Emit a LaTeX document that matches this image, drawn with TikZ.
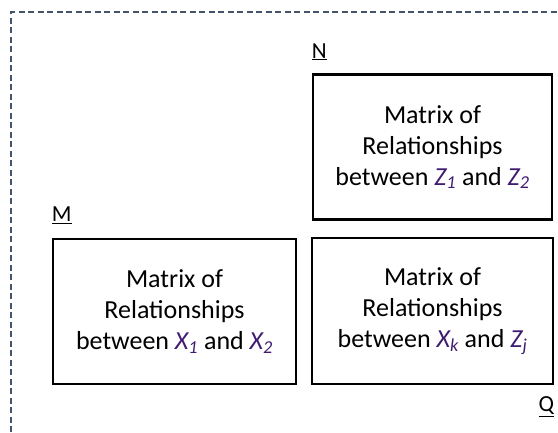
\documentclass[tikz,border=0pt]{standalone}
\usepackage{fontspec}
\setmainfont{Carlito}
\usetikzlibrary{positioning}

\definecolor{varcol}{RGB}{64,28,112}
\definecolor{framecol}{RGB}{68,84,106}
\newcommand{\var}[2]{\textcolor{varcol}{\textit{#1\textsubscript{#2}}}}

\tikzset{
  matbox/.style={draw=black, line width=2.5pt, align=center,
                 font=\fontsize{26}{31}\selectfont, inner sep=0pt},
  lbl/.style={inner sep=0pt, font=\fontsize{23}{27}\selectfont}
}

\begin{document}
\begin{tikzpicture}[x=1pt, y=-1pt]
  \useasboundingbox (0,0) rectangle (558,432);
  % dashed frame, runs off the right and bottom edges
  \draw[framecol, line width=1.3pt, dash pattern=on 6pt off 3.5pt]
    (11,432) -- (11,12) -- (558,12);

  % the three matrices
  \node[matbox, minimum width=239pt, minimum height=145pt] (nbox) at (432.5,147)
    {Matrix of\\Relationships\\between \var{Z}{1} and \var{Z}{2}};
  \node[matbox, minimum width=243pt, minimum height=145pt] (mbox) at (174.5,311.5)
    {Matrix of\\Relationships\\between \var{X}{1} and \var{X}{2}};
  \node[matbox, minimum width=241pt, minimum height=146pt] (qbox) at (432.5,311)
    {Matrix of\\Relationships\\between \var{X}{k} and \var{Z}{j}};

  % labels
  \node[lbl, above right=13pt and 0pt of nbox.north west] (nlbl) {\underline{N}};
  \node[lbl, above right=14pt and 0pt of mbox.north west] (mlbl) {\underline{M}};
  \node[lbl, below left=11pt and 0pt of qbox.south east] (qlbl) {\underline{Q}};
\end{tikzpicture}
\end{document}
